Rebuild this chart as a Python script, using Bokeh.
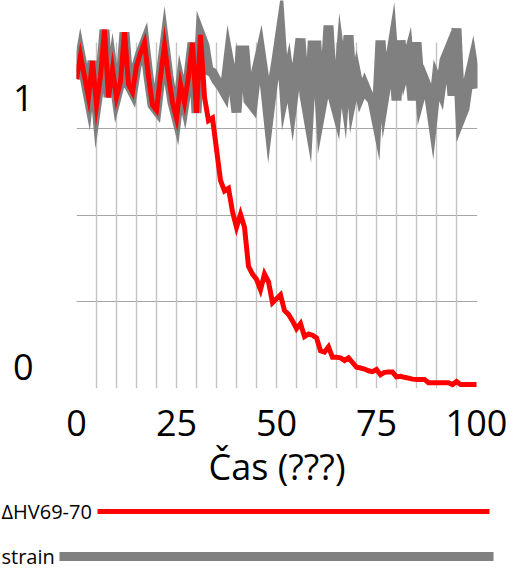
from bokeh.plotting import figure
from bokeh.models import Range1d, FixedTicker
from bokeh.embed import file_html
from bokeh.resources import INLINE
from bokeh.core.properties import value

# ---------------- data ----------------
time = list(range(101))

variant = [1.19, 1.28, 1.20, 1.12, 1.26, 1.09, 1.20, 1.38, 1.12, 1.23,
           1.12, 1.18, 1.37, 1.17, 1.14, 1.24, 1.29, 1.33, 1.20, 1.09,
           1.07, 1.20, 1.32, 1.20, 1.10, 1.04, 1.17, 1.10, 1.20, 1.33,
           1.06, 1.36, 1.12, 1.03, 1.04, 0.92, 0.80, 0.76, 0.77, 0.68,
           0.62, 0.67, 0.62, 0.47, 0.44, 0.42, 0.38, 0.44, 0.41, 0.33,
           0.345, 0.36, 0.30, 0.285, 0.26, 0.23, 0.25, 0.20, 0.21, 0.205,
           0.195, 0.145, 0.14, 0.16, 0.12, 0.12, 0.118, 0.108, 0.118, 0.10,
           0.082, 0.079, 0.075, 0.068, 0.065, 0.073, 0.053, 0.062, 0.063, 0.063,
           0.045, 0.047, 0.043, 0.040, 0.036, 0.035, 0.035, 0.035, 0.022, 0.022,
           0.022, 0.022, 0.022, 0.022, 0.015, 0.027, 0.015, 0.015, 0.015, 0.015,
           0.015]

strain = [1.19, 1.28, 1.20, 1.12, 1.26, 1.09, 1.20, 1.38, 1.12, 1.23,
          1.12, 1.18, 1.37, 1.17, 1.14, 1.24, 1.29, 1.33, 1.20, 1.09,
          1.07, 1.20, 1.32, 1.20, 1.10, 1.04, 1.17, 1.10, 1.20, 1.33,
          1.06, 1.36, 1.319, 1.223, 1.215, 1.185, 1.165, 1.138, 1.269, 1.185,
          1.062, 1.300, 1.300, 1.108, 1.088, 1.223, 1.292, 1.185, 1.038, 1.165,
          1.262, 1.369, 1.138, 1.215, 1.100, 1.223, 1.346, 1.127, 1.038, 1.319,
          1.319, 1.062, 1.146, 1.396, 1.127, 1.069, 1.262, 1.146, 1.358, 1.127,
          1.204, 1.127, 1.165, 1.127, 1.108, 1.031, 1.338, 1.127, 1.223, 1.319,
          1.108, 1.338, 1.223, 1.281, 1.108, 1.331, 1.127, 1.185, 1.146, 1.038,
          1.185, 1.146, 1.262, 1.300, 1.127, 1.385, 1.038, 1.077, 1.185, 1.254,
          1.154]

series_names = ["ΔHV69-70", "strain"]
series_colors = ["#ff0000", "#808080"]

x_ticks = [0, 25, 50, 75, 100]
x_grid = [5, 10, 15, 20, 25, 30, 35, 40, 45, 50, 55, 60, 65, 70, 75, 80, 85, 90, 95]
y_grid = [1 / 3, 2 / 3, 1]
y_tick_values = [0, 1]
y_tick_labels = ["0", "1"]
x_label = "Čas (???)"

# ---------------- style / layout constants ----------------
FONT = "Open Sans"
Y_TOP = 388 / 260            # frame top in data units
GRID_TOP = 346 / 260         # where the vertical grid lines stop
LABEL_LIFT = [0.081, 0.119]  # the tick labels sit a little above their value

p = figure(frame_width=401, frame_height=388,
           x_range=Range1d(0, 100.25), y_range=Range1d(0, Y_TOP),
           min_border_left=76, min_border_right=40,
           min_border_top=0, min_border_bottom=0,
           output_backend="svg", toolbar_location=None)
p.outline_line_color = None

p.xgrid.visible = False
p.ygrid.ticker = FixedTicker(ticks=y_grid)
p.ygrid.grid_line_color = "#a6a6a6"
p.ygrid.grid_line_width = 1

# vertical grid lines, stopping below the top of the frame
p.segment(x0=x_grid, y0=[0] * len(x_grid), x1=x_grid, y1=[GRID_TOP] * len(x_grid),
          line_color="#c4c4c4", line_width=1.4)

p.line(time, strain, line_color=series_colors[1], line_width=10, line_join="miter")
p.line(time, variant, line_color=series_colors[0], line_width=5, line_join="miter")

# x axis
p.xaxis.ticker = FixedTicker(ticks=x_ticks)
p.xaxis.axis_line_color = None
p.xaxis.major_tick_line_color = None
p.xaxis.minor_tick_line_color = None
p.xaxis.major_label_text_font = FONT
p.xaxis.major_label_text_font_size = "36px"
p.xaxis.major_label_text_color = "black"
p.xaxis.major_label_standoff = 15
p.xaxis.axis_label = x_label
p.xaxis.axis_label_text_font = FONT
p.xaxis.axis_label_text_font_size = "36px"
p.xaxis.axis_label_text_font_style = "normal"
p.xaxis.axis_label_text_color = "black"
p.xaxis.axis_label_standoff = 3

# y axis
y_pos = [v + d for v, d in zip(y_tick_values, LABEL_LIFT)]
p.yaxis.ticker = FixedTicker(ticks=y_pos)
p.yaxis.major_label_overrides = {pos: lab for pos, lab in zip(y_pos, y_tick_labels)}
p.yaxis.axis_line_color = None
p.yaxis.major_tick_line_color = None
p.yaxis.minor_tick_line_color = None
p.yaxis.major_label_text_font = FONT
p.yaxis.major_label_text_font_size = "36px"
p.yaxis.major_label_text_color = "black"
p.yaxis.major_label_standoff = 37

# ---------------- legend: labels left of long line samples ----------------
LEG_TOP = 495
LEG_H = 75
leg = figure(frame_width=517, frame_height=LEG_H,
             x_range=Range1d(0, 517), y_range=Range1d(LEG_H, 0),
             min_border_left=0, min_border_right=0, min_border_top=0, min_border_bottom=0,
             x_axis_location=None, y_axis_location=None,
             output_backend="svg", toolbar_location=None,
             styles={"position": "absolute", "top": f"{LEG_TOP}px", "left": "0px"})
leg.outline_line_color = None
leg.xgrid.visible = False
leg.ygrid.visible = False
row_y = [16, 61]
leg.segment(x0=[97, 59], y0=row_y, x1=[489, 493], y1=row_y,
            line_color=series_colors, line_width=[5, 9])
leg.text(x=[1, 1], y=[23, 68], text=series_names,
         text_font=value(FONT), text_font_size="20px",
         text_baseline="middle", text_align="left", text_color="black",
         y_offset=[-7, -7])

open("out.html", "w").write(file_html([p, leg], INLINE))
